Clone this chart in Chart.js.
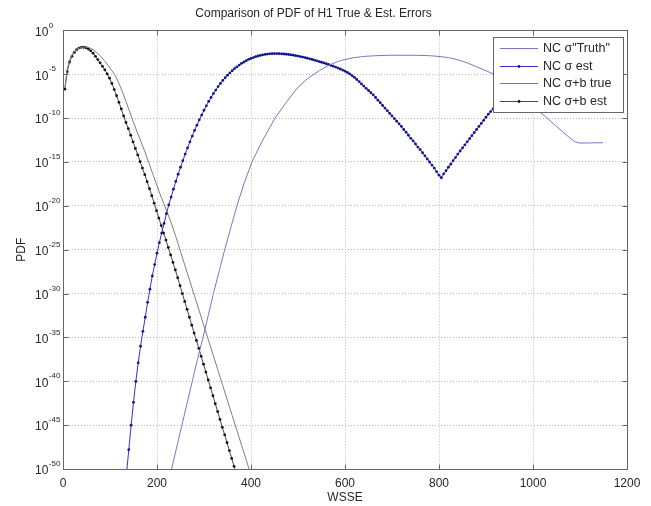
<!DOCTYPE html>
<html>
<head>
<meta charset="utf-8">
<script src="https://cdn.jsdelivr.net/npm/chart.js@4.4.0/dist/chart.umd.min.js"></script>
<style>
  body { margin: 0; background: #fff; }
</style>
</head>
<body>
<canvas id="pdfChart" width="651" height="506"></canvas>
<script>
// values are log10(PDF)
const seriesLabels = ['NC σ"Truth"', 'NC σ est', 'NC σ+b true', 'NC σ+b est'];
const xTicks = [0, 200, 400, 600, 800, 1000, 1200];
const yTickExp = [0, -5, -10, -15, -20, -25, -30, -35, -40, -45, -50];

// NC sigma "Truth" (thin line)
const truthX = [228, 231, 242, 253, 264, 275, 286, 298, 309, 320, 332, 344, 357, 370, 385, 402, 425, 451, 475, 498,
  520, 545, 568, 590, 617, 640, 665, 700, 750, 780, 800, 820, 840, 860, 880, 900, 915, 960, 1000, 1026,
  1050, 1075, 1089, 1100, 1149];
const truthLog = [-51.5, -50, -47.5, -45, -42.5, -40, -37.5, -35, -32.5, -30, -27.5, -25, -22.5, -20, -17.5, -15, -12.5, -10, -8.2, -6.6,
  -5.5, -4.6, -3.9, -3.45, -3.12, -2.97, -2.88, -2.83, -2.84, -2.88, -2.97, -3.1, -3.35, -3.7, -4.15, -4.6, -4.95, -6.9, -8.7, -9.8,
  -10.95, -12.1, -12.7, -12.85, -12.8];

// NC sigma est (dotted), sampled every 5 from WSSE 130
const sEstStart = 130, sEstStep = 5;
const sEstLog = [-53.5, -50.6, -47.8, -45.0, -42.4, -40.0, -37.9, -36.0, -34.3, -32.7,
  -31.0, -29.5, -28.0, -26.7, -25.4, -24.2, -23.1, -22.0, -20.9, -19.9,
  -19.0, -18.1, -17.2, -16.4, -15.6, -14.85, -14.1, -13.4, -12.7, -12.05,
  -11.4, -10.8, -10.2, -9.65, -9.1, -8.6, -8.1, -7.65, -7.2, -6.8,
  -6.4, -6.05, -5.7, -5.4, -5.1, -4.85, -4.6, -4.35, -4.15, -3.95,
  -3.75, -3.6, -3.45, -3.3, -3.2, -3.1, -3.0, -2.92, -2.85, -2.79,
  -2.74, -2.7, -2.67, -2.65, -2.64, -2.64, -2.65, -2.67, -2.69, -2.72,
  -2.75, -2.79, -2.83, -2.88, -2.93, -2.98, -3.04, -3.1, -3.17, -3.24,
  -3.31, -3.39, -3.47, -3.55, -3.63, -3.71, -3.8, -3.89, -3.98, -4.08,
  -4.18, -4.29, -4.4, -4.52, -4.65, -4.8, -4.95, -5.15, -5.35, -5.6,
  -5.85, -6.1, -6.35, -6.6, -6.85, -7.1, -7.35, -7.65, -7.95, -8.25,
  -8.55, -8.85, -9.15, -9.45, -9.75, -10.05, -10.35, -10.65, -10.95, -11.3,
  -11.6, -11.95, -12.3, -12.6, -12.95, -13.3, -13.6, -13.95, -14.3, -14.65,
  -15.0, -15.35, -15.7, -16.1, -16.5, -16.8, -16.35, -16.0, -15.6, -15.25,
  -14.85, -14.5, -14.1, -13.75, -13.4, -13.05, -12.7, -12.35, -12.0, -11.65,
  -11.3, -10.95, -10.6, -10.25, -9.9, -9.55, -9.25, -8.95, -8.6, -8.3,
  -8.0, -7.7, -7.4];

// NC sigma+b true (thin line)
const sbTrueX = [4, 9, 14, 19, 24, 30, 36, 42, 48, 54, 60, 66, 72, 80, 88, 96, 104, 110, 118, 126,
  134, 142, 150, 158, 166, 174, 182, 190, 198, 206, 214, 220, 230, 240, 250, 260, 270, 280, 290, 300,
  310, 320, 330, 340, 350, 360, 370, 380, 390, 397];
const sbTrueLog = [-6.5, -4.4, -3.4, -2.8, -2.4, -2.15, -2.0, -1.92, -1.9, -1.95, -2.08, -2.28, -2.55, -2.95, -3.45, -4.0, -4.6, -5.05, -5.9, -6.95,
  -8.1, -9.3, -10.5, -11.6, -12.7, -13.8, -15.0, -16.2, -17.4, -18.6, -19.7, -20.5, -21.9, -23.5, -25.2, -26.9, -28.6, -30.3, -32.0, -33.7,
  -35.4, -37.1, -38.8, -40.5, -42.2, -43.9, -45.6, -47.3, -49.0, -50.2];

// NC sigma+b est (dotted), sampled every 5 from WSSE 4
const sbEstStart = 4, sbEstStep = 5;
const sbEstLog = [-6.7, -4.7, -3.6, -2.95, -2.5, -2.2, -2.02, -1.93, -1.92, -1.98,
  -2.12, -2.33, -2.6, -2.95, -3.33, -3.7, -4.1, -4.5, -4.95, -5.45,
  -6.05, -6.75, -7.45, -8.2, -8.95, -9.75, -10.5, -11.2, -11.95, -12.7,
  -13.45, -14.2, -14.95, -15.7, -16.45, -17.25, -18.05, -18.85, -19.7, -20.55,
  -21.4, -22.25, -23.1, -23.9, -24.75, -25.6, -26.45, -27.3, -28.2, -29.1,
  -30.0, -30.9, -31.8, -32.7, -33.6, -34.5, -35.35, -36.25, -37.15, -38.05,
  -38.95, -39.85, -40.75, -41.65, -42.55, -43.45, -44.35, -45.25, -46.1, -47.0,
  -47.9, -48.8, -49.7, -50.6];

const toPoints = (xs, logs) => logs.map((v, i) => ({ x: xs[i], y: Math.pow(10, v) }));
const gridX = (start, step, n) => Array.from({ length: n }, (_, i) => start + i * step);

const textColor = '#262626';
const fontFamily = '"Liberation Sans", Arial, sans-serif';
Chart.defaults.font.family = fontFamily;
Chart.defaults.color = textColor;

// MATLAB style frame, inner ticks, 10^n labels and boxed legend
const matlabFrame = {
    id: 'matlabFrame',
    afterDraw(chart) {
        const ctx = chart.ctx;
        const a = chart.chartArea;
        const xs = chart.scales.x, ys = chart.scales.y;
        const L = Math.round(a.left) + 0.5, R = Math.round(a.right) + 0.5;
        const T = Math.round(a.top) + 0.5, B = Math.round(a.bottom) + 0.5;
        ctx.save();
        ctx.strokeStyle = '#666';
        ctx.lineWidth = 1;
        ctx.strokeRect(L, T, R - L, B - T);

        // inner tick marks
        ctx.beginPath();
        xTicks.forEach(v => {
            const px = Math.round(xs.getPixelForValue(v)) + 0.5;
            ctx.moveTo(px, B); ctx.lineTo(px, B - 5);
            ctx.moveTo(px, T); ctx.lineTo(px, T + 5);
        });
        yTickExp.forEach(e => {
            const py = Math.round(ys.getPixelForValue(Math.pow(10, e))) + 0.5;
            ctx.moveTo(L, py); ctx.lineTo(L + 5, py);
            ctx.moveTo(R, py); ctx.lineTo(R - 5, py);
        });
        ctx.stroke();

        // y tick labels 10^n
        ctx.fillStyle = textColor;
        ctx.textBaseline = 'middle';
        ctx.textAlign = 'left';
        yTickExp.forEach(e => {
            const py = ys.getPixelForValue(Math.pow(10, e));
            ctx.font = '12px ' + fontFamily;
            ctx.fillText('10', 35, py + 2);
            const w = ctx.measureText('10').width;
            ctx.font = '8px ' + fontFamily;
            ctx.fillText(String(e), 35 + w + 0.5, py - 5);
        });

        // legend box
        const bx = 493, by = 37, bw = 130, bh = 75;
        ctx.fillStyle = '#fff';
        ctx.fillRect(bx, by, bw, bh);
        ctx.strokeStyle = '#666';
        ctx.strokeRect(bx + 0.5, by + 0.5, bw, bh);
        ctx.font = '12.5px ' + fontFamily;
        chart.data.datasets.forEach((ds, i) => {
            const y = Math.round(48 + i * 17.7) + 0.5;
            ctx.strokeStyle = ds.borderColor;
            ctx.lineWidth = 1;
            ctx.beginPath();
            ctx.moveTo(500, y); ctx.lineTo(538, y);
            ctx.stroke();
            if (ds.pointRadius > 0) {
                ctx.fillStyle = ds.pointBackgroundColor;
                ctx.beginPath();
                ctx.arc(519, y, ds.pointRadius, 0, Math.PI * 2);
                ctx.fill();
            }
            ctx.fillStyle = textColor;
            ctx.fillText(ds.label, 543, y);
        });
        ctx.restore();
    }
};

const ctx = document.getElementById('pdfChart').getContext('2d');
new Chart(ctx, {
    type: 'line',
    data: {
        datasets: [
            {
                label: seriesLabels[0],
                data: toPoints(truthX, truthLog),
                borderColor: '#7878c8',
                borderWidth: 1,
                pointRadius: 0,
                tension: 0
            },
            {
                label: seriesLabels[1],
                data: toPoints(gridX(sEstStart, sEstStep, sEstLog.length), sEstLog),
                borderColor: '#3434c8',
                borderWidth: 1,
                pointRadius: 1.4,
                pointBorderWidth: 0,
                pointBackgroundColor: '#14148c',
                tension: 0
            },
            {
                label: seriesLabels[2],
                data: toPoints(sbTrueX, sbTrueLog),
                borderColor: '#7e7e7e',
                borderWidth: 1,
                pointRadius: 0,
                tension: 0
            },
            {
                label: seriesLabels[3],
                data: toPoints(gridX(sbEstStart, sbEstStep, sbEstLog.length), sbEstLog),
                borderColor: '#4a4a4a',
                borderWidth: 1,
                pointRadius: 1.4,
                pointBorderWidth: 0,
                pointBackgroundColor: '#111',
                tension: 0
            }
        ]
    },
    options: {
        responsive: false,
        animation: false,
        devicePixelRatio: 1,
        layout: { padding: { left: 0, right: 24, top: 0, bottom: 0 } },
        plugins: {
            legend: { display: false },
            tooltip: { enabled: false },
            title: {
                display: true,
                text: 'Comparison of PDF of H1 True & Est. Errors',
                font: { size: 12, weight: 'normal' },
                color: textColor,
                padding: { top: 6, bottom: 10 }
            }
        },
        scales: {
            x: {
                type: 'linear',
                min: 0,
                max: 1200,
                afterBuildTicks: s => { s.ticks = xTicks.map(v => ({ value: v })); },
                afterFit: s => { s.height = 37; s.paddingLeft = 0; s.paddingRight = 0; },
                ticks: {
                    font: { size: 12 },
                    color: textColor,
                    padding: 7,
                    maxRotation: 0,
                    callback: v => String(v)
                },
                grid: { color: '#b8b8b8', drawTicks: false },
                border: { display: false, dash: [1, 2] },
                title: { display: true, text: 'WSSE', font: { size: 12 }, color: textColor, padding: 1 }
            },
            y: {
                type: 'logarithmic',
                min: 1e-50,
                max: 1,
                afterBuildTicks: s => { s.ticks = yTickExp.map(e => ({ value: Math.pow(10, e) })); },
                afterFit: s => { s.width = 63; s.paddingTop = 0; s.paddingBottom = 0; },
                ticks: { display: false },
                grid: { color: '#b8b8b8', drawTicks: false },
                border: { display: false, dash: [1, 2] },
                title: { display: true, text: 'PDF', font: { size: 12 }, color: textColor, padding: 14 }
            }
        }
    },
    plugins: [matlabFrame]
});
</script>
</body>
</html>
